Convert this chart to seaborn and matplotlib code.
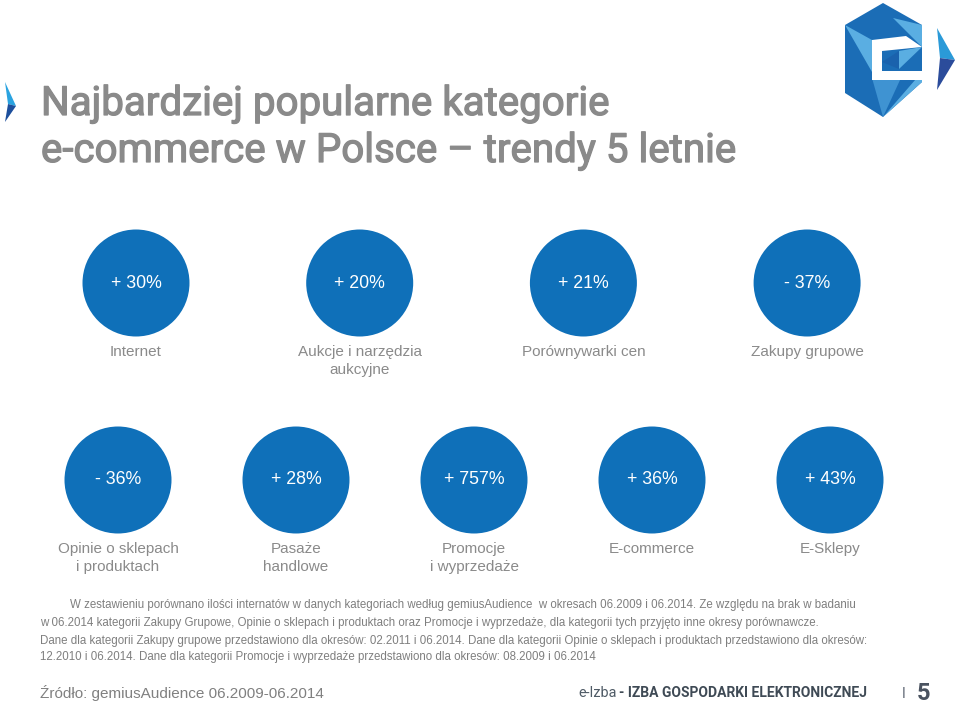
import matplotlib
matplotlib.use("Agg")
import matplotlib.pyplot as plt
import matplotlib.patheffects as pe
import seaborn as sns
import pandas as pd
import numpy as np
from matplotlib.patches import Polygon

# ---- data ----
categories_row1 = ["Internet", "Aukcje i narzędzia\naukcyjne", "Porównywarki cen", "Zakupy grupowe"]
changes_row1 = [30, 20, 21, -37]
categories_row2 = ["Opinie o sklepach\ni produktach", "Pasaże\nhandlowe", "Promocje\ni wyprzedaże",
                   "E-commerce", "E-Sklepy"]
changes_row2 = [-36, 28, 757, 36, 43]

title_lines = ["Najbardziej popularne kategorie", "e-commerce w Polsce – trendy 5 letnie"]
footnote_lines = [
    "W zestawieniu porównano ilości internatów w danych kategoriach według gemiusAudience  w okresach 06.2009 i 06.2014. Ze względu na brak w badaniu",
    "w 06.2014 kategorii Zakupy Grupowe, Opinie o sklepach i produktach oraz Promocje i wyprzedaże, dla kategorii tych przyjęto inne okresy porównawcze.",
    "Dane dla kategorii Zakupy grupowe przedstawiono dla okresów: 02.2011 i 06.2014. Dane dla kategorii Opinie o sklepach i produktach przedstawiono dla okresów:",
    "12.2010 i 06.2014. Dane dla kategorii Promocje i wyprzedaże przedstawiono dla okresów: 08.2009 i 06.2014",
]
source_text = "Źródło: gemiusAudience 06.2009-06.2014"
brand_light = "e-Izba"
brand_bold = "- IZBA GOSPODARKI ELEKTRONICZNEJ"
page_number = "5"

# ---- layout ----
W, H = 960, 704
row1 = pd.DataFrame({"category": categories_row1, "change": changes_row1})
row1["x"] = 136 + np.arange(len(row1)) * 223.7
row1["y"] = 283
row2 = pd.DataFrame({"category": categories_row2, "change": changes_row2})
row2["x"] = 118 + np.arange(len(row2)) * 178
row2["y"] = 480
df = pd.concat([row1, row2], ignore_index=True)

def fmt(v):
    return f"+ {v}%" if v >= 0 else f"- {abs(v)}%"

sns.set_theme(style="white")
plt.rcParams["font.family"] = ["Liberation Sans", "DejaVu Sans"]

fig = plt.figure(figsize=(W / 100, H / 100), dpi=100)
ax = fig.add_axes([0, 0, 1, 1])

blue = "#0f70b9"
radius_px = 53.5
s = (2 * radius_px * 0.72) ** 2
sns.scatterplot(data=df, x="x", y="y", s=s, color=blue, edgecolor="none", ax=ax, legend=False)
ax.set_xlim(0, W)
ax.set_ylim(H, 0)
ax.axis("off")

for _, r in df.iterrows():
    ax.text(r.x, r.y, fmt(r.change), color="white", fontsize=12.8, ha="center", va="center")
    ax.text(r.x, r.y + 62, r.category, color="#8a8a8a", fontsize=11, ha="center", va="top",
            linespacing=1.4)

# title
title_font = ["Roboto", "DejaVu Sans"]
title_color = "#8a8a8a"
for t, yb in zip(title_lines, [115, 162]):
    ax.text(41, yb, t, color=title_color, fontsize=29, family=title_font,
            ha="left", va="baseline",
            path_effects=[pe.withStroke(linewidth=0.9, foreground=title_color)])

# footnote
fy = [605, 623, 641, 657]
fx = [70, 40, 40, 40]
for t, x0, y0 in zip(footnote_lines, fx, fy):
    ax.text(x0, y0, t, color="#7f7f7f", fontsize=8.3, ha="left", va="center")

# footer
ax.text(40, 693, source_text, color="#808080", fontsize=11, ha="left", va="center")
ax.text(578, 693, brand_light, color="#4f5b66", fontsize=10.4, family=title_font,
        ha="left", va="center")
ax.text(619, 693, brand_bold, color="#3f4a55", fontsize=10,
        fontweight="bold", family=title_font, ha="left", va="center")
ax.text(904, 694, "I", color="#5a6370", fontsize=10, family=title_font,
        ha="center", va="center")
ax.text(924, 693, page_number, color="#4a5360", fontsize=17, fontweight="bold",
        family=title_font, ha="center", va="center")

# left chevron marker
ax.add_patch(Polygon([(5, 82), (16, 106), (8, 104)], closed=True, color="#2aa3e0", lw=0))
ax.add_patch(Polygon([(8, 104), (16, 106), (5, 122)], closed=True, color="#1d4f9c", lw=0))

# logo (hexagon e)
hexa = [(845, 25), (883, 3), (922, 25), (922, 82), (883, 117), (845, 93)]
ax.add_patch(Polygon(hexa, closed=True, color="#1b6db6", lw=0))
ax.add_patch(Polygon([(845, 25), (872, 40), (872, 72)], closed=True, color="#5aaee2", lw=0))
ax.add_patch(Polygon([(893, 18), (922, 25), (922, 47)], closed=True, color="#5aaee2", lw=0))
ax.add_patch(Polygon([(922, 72), (922, 82), (883, 117)], closed=True, color="#5aaee2", lw=0))
ax.add_patch(Polygon([(872, 78), (900, 80), (883, 117)], closed=True, color="#3f93d2", lw=0))
# white C of the e
ax.add_patch(Polygon([(872, 40), (906, 36), (922, 47), (882, 51), (882, 71), (922, 71),
                      (922, 80), (900, 80), (872, 80)], closed=True, color="white", lw=0))
# crossbar facets
ax.add_patch(Polygon([(882, 62), (899, 51), (899, 69)], closed=True, color="#1a62ad", lw=0))
ax.add_patch(Polygon([(899, 51), (922, 47), (899, 69)], closed=True, color="#5aaee2", lw=0))
# right arrow
ax.add_patch(Polygon([(937, 28), (955, 60), (940, 58)], closed=True, color="#2a9ad8", lw=0))
ax.add_patch(Polygon([(940, 58), (955, 60), (937, 90)], closed=True, color="#2b4c9b", lw=0))

fig.savefig("out.png", dpi=100, facecolor="white")
